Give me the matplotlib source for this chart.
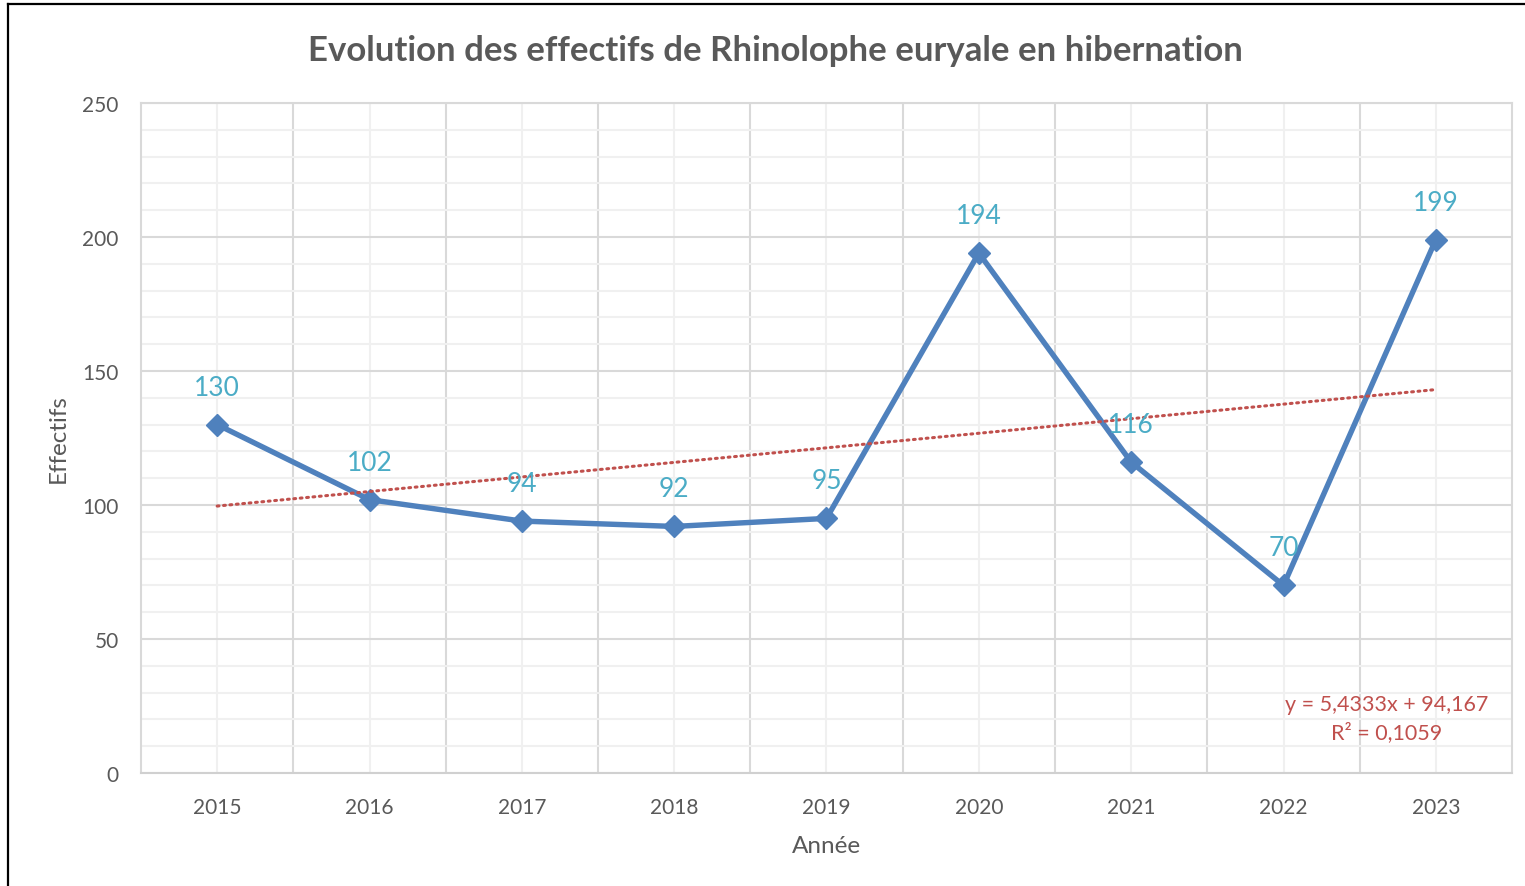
import matplotlib.pyplot as plt
from matplotlib.lines import Line2D
from matplotlib.ticker import MultipleLocator, FixedLocator
import numpy as np

plt.rcParams['font.family'] = ['Lato', 'DejaVu Sans']

years = ['2015', '2016', '2017', '2018', '2019', '2020', '2021', '2022', '2023']
counts = [130, 102, 94, 92, 95, 194, 116, 70, 199]

title = 'Evolution des effectifs de Rhinolophe euryale en hibernation'
x_title = 'Année'
y_title = 'Effectifs'

text_grey = '#595959'
line_blue = '#4F81BD'
label_blue = '#4BACC6'
trend_red = '#C0504D'

fig = plt.figure(figsize=(15.25, 8.87), dpi=100)
ax = fig.add_axes([141 / 1525, 1 - 774 / 887, (1512 - 141) / 1525, (774 - 104) / 887])

x = np.arange(len(years))
y = np.array(counts, dtype=float)

# linear trend, fitted on 1..n like the spreadsheet does
xs = x + 1
slope, intercept = np.polyfit(xs, y, 1)
fit = slope * xs + intercept
r2 = 1 - np.sum((y - fit) ** 2) / np.sum((y - y.mean()) ** 2)

ax.plot(x, y, color=line_blue, lw=3.9, marker='D', markersize=11,
        solid_joinstyle='round', zorder=3)
ax.plot(x, fit, color=trend_red, lw=2.2, linestyle=(0, (0.6, 1.5)),
        dash_capstyle='round', zorder=4)

for xi, yi in zip(x, counts):
    ax.annotate(str(yi), (xi, yi), xytext=(0, 27), textcoords='offset points',
                ha='center', va='center', fontsize=19, color=label_blue, zorder=5)

eq = f'y = {slope:.4f}x + {intercept:.3f}'.replace('.', ',')
r2_txt = f'R² = {r2:.4f}'.replace('.', ',')
ax.text(7.68, 20.5, eq + '\n' + r2_txt, ha='center', va='center', fontsize=15.5,
        color=trend_red, linespacing=1.45, zorder=5)

ax.set_xlim(-0.5, len(years) - 0.5)
ax.set_ylim(0, 250)

ax.xaxis.set_major_locator(FixedLocator(x))
ax.set_xticklabels(years)
ax.xaxis.set_minor_locator(FixedLocator(np.arange(0.5, len(years) - 1, 1)))
ax.yaxis.set_major_locator(MultipleLocator(50))
ax.yaxis.set_minor_locator(MultipleLocator(10))

# category boundaries get the darker lines, category centres the lighter ones
ax.grid(which='minor', axis='x', color='#D9D9D9', lw=1.5)
ax.grid(which='major', axis='x', color='#F0F0F0', lw=1.5)
ax.grid(which='major', axis='y', color='#D9D9D9', lw=1.5)
ax.grid(which='minor', axis='y', color='#F0F0F0', lw=1.5)
ax.set_axisbelow(True)

ax.tick_params(which='both', length=0)
ax.tick_params(axis='x', labelsize=15, labelcolor=text_grey, pad=17)
ax.tick_params(axis='y', labelsize=15, labelcolor=text_grey, pad=16)

for side in ['top', 'right', 'left']:
    ax.spines[side].set_color('#D9D9D9')
    ax.spines[side].set_linewidth(1.5)
ax.spines['bottom'].set_color('#D0D0D0')
ax.spines['bottom'].set_linewidth(1.5)

ax.set_xlabel(x_title, fontsize=17.5, color=text_grey, labelpad=13)
ax.set_ylabel(y_title, fontsize=17.5, color=text_grey, labelpad=10)

fig.text(775 / 1525, 1 - 51 / 887, title, ha='center', va='center',
         fontsize=25, fontweight='bold', color=text_grey)

# outer chart frame
fig.add_artist(Line2D([8 / 1525, 8 / 1525], [0, 1 - 5 / 887], transform=fig.transFigure,
                      color='black', lw=1.6))
fig.add_artist(Line2D([8 / 1525, 1], [1 - 5 / 887, 1 - 5 / 887], transform=fig.transFigure,
                      color='black', lw=1.6))

fig.savefig('out.png', dpi=100)
